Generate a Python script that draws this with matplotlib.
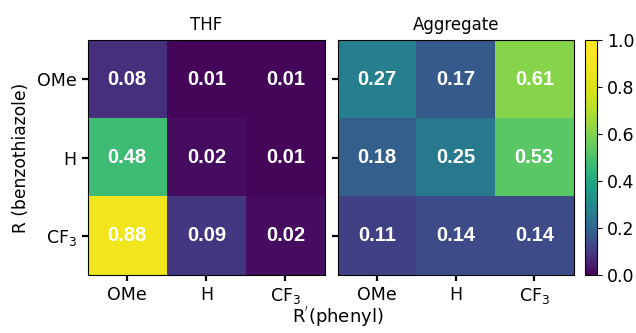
import numpy as np
import matplotlib
matplotlib.use("Agg")
import matplotlib.pyplot as plt
from matplotlib.colors import ListedColormap

# substituents
row_labels = ["OMe", "H", "CF$_3$"]   # R (benzothiazole)
col_labels = ["OMe", "H", "CF$_3$"]   # R' (phenyl)

# values
thf = [[0.08, 0.01, 0.01],
       [0.48, 0.02, 0.01],
       [0.88, 0.09, 0.02]]
aggregate = [[0.27, 0.17, 0.61],
             [0.18, 0.25, 0.53],
             [0.11, 0.14, 0.14]]

titles = ["THF", "Aggregate"]

# the reference palette looks like viridis pushed toward the bright end
x = np.linspace(0, 1, 256)
cmap = ListedColormap(plt.get_cmap("viridis")(1 - (1 - x) ** 1.8))

plt.rcParams["font.size"] = 12.5

fig = plt.figure(figsize=(6.36, 3.33), dpi=100)
ax1 = fig.add_axes([0.138, 0.174, 0.373, 0.706])
ax2 = fig.add_axes([0.531, 0.174, 0.371, 0.706])
cax = fig.add_axes([0.920, 0.174, 0.019, 0.706])

for ax, data, title in zip([ax1, ax2], [thf, aggregate], titles):
    arr = np.array(data)
    im = ax.imshow(arr, cmap=cmap, vmin=0, vmax=1, aspect="auto")
    for i in range(arr.shape[0]):
        for j in range(arr.shape[1]):
            ax.text(j, i, f"{arr[i, j]:.2f}", ha="center", va="center",
                    color="white", fontsize=14.5, fontweight="bold",
                    family="Liberation Sans")
    ax.set_xticks(range(len(col_labels)))
    ax.set_xticklabels(col_labels)
    ax.set_yticks(range(len(row_labels)))
    ax.set_title(title, fontsize=12, pad=7)
    ax.tick_params(width=1.6, length=4.5)

ax1.set_yticklabels(row_labels)
ax2.set_yticklabels([])
ax1.set_ylabel("R (benzothiazole)", fontsize=12.3, labelpad=5)

cb = fig.colorbar(im, cax=cax)
cb.set_ticks([0.0, 0.2, 0.4, 0.6, 0.8, 1.0])
cb.ax.tick_params(labelsize=12.5)

fig.text(0.531, 0.012, "R$^{'}$(phenyl)", ha="center", va="bottom", fontsize=13)

fig.savefig("out.png", dpi=100)
